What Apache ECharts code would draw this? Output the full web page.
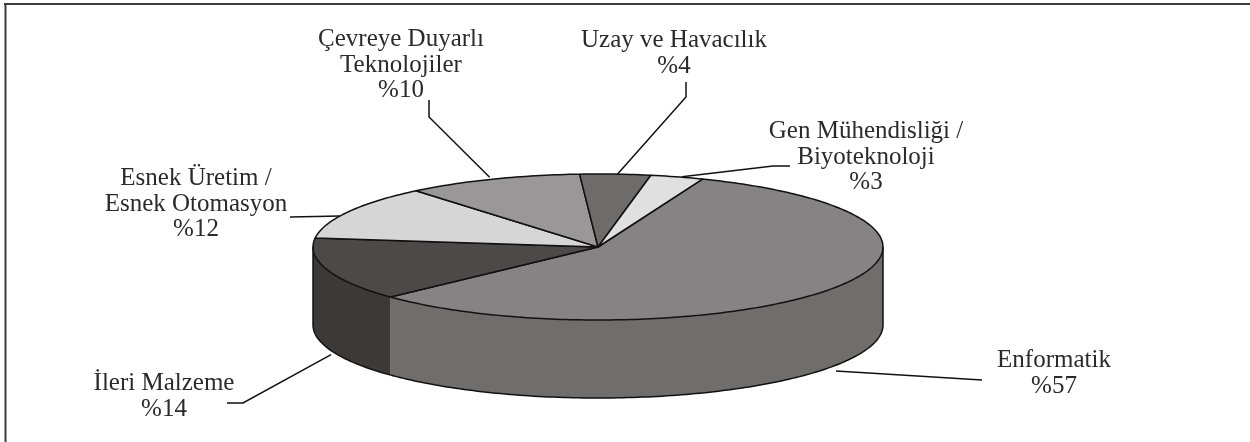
<!DOCTYPE html>
<html>
<head>
<meta charset="utf-8">
<title>Pie</title>
<style>
html, body { margin: 0; padding: 0; background: #fff; }
#chart { width: 1250px; height: 442px; }
</style>
<script src="https://cdn.jsdelivr.net/npm/echarts@6/dist/echarts.min.js"></script>
</head>
<body>
<div id="chart"></div>
<script>
const categories = ['Enformatik', 'İleri Malzeme', 'Esnek Üretim /\nEsnek Otomasyon', 'Çevreye Duyarlı\nTeknolojiler', 'Uzay ve Havacılık', 'Gen Mühendisliği /\nBiyoteknoloji']
const values = [57, 14, 12, 10, 4, 3]

const topColors = ['#858384', '#4d4948', '#d6d6d6', '#999798', '#6e6c6a', '#e0e0e0']
const sideColors = ['#6f6e6c', '#3d3937', '#a8a8a8', '#777576', '#555351', '#b0b0b0']

// where each label sits and how its leader runs, pixels on the page
const labelSpots = [[1054, 348], [164, 371], [196, 166], [401, 27], [674, 28], [866, 119]]
const leaderNudges = [[2, 5], [4, 7], [-8, 4], [-3, -2], [2, 0], [5, 0]]
const leaderBends = [
  [[982, 380]],
  [[243, 403], [227, 403]],
  [[290, 217]],
  [[429, 117], [429, 100]],
  [[686, 97], [686, 82]],
  [[773, 166], [790, 166]],
]

const cx = 598
const cy = 247
const rx = 285
const ry = 73
const depth = 78
const startDeg = 68.5
const total = values.reduce((a, b) => a + b, 0)
const edge = { stroke: '#111', lineWidth: 1.5, fill: null }

function rimPoint(deg, drop) {
  const t = deg * Math.PI / 180
  return [cx + rx * Math.cos(t), cy - ry * Math.sin(t) + drop]
}

// from > to, walking clockwise
function arcPoints(from, to, drop) {
  const pts = []
  for (let d = from; d > to; d -= 1) pts.push(rimPoint(d, drop))
  pts.push(rimPoint(to, drop))
  return pts
}

function sliceRange(i) {
  let before = 0
  for (let k = 0; k < i; k++) before += values[k]
  const from = startDeg - before / total * 360
  return [from, from - values[i] / total * 360]
}

function wallChildren(i, from, to) {
  // the wall only shows on the front half, 0 to -180
  const hi = Math.min(from, 0)
  const lo = Math.max(to, -180)
  if (hi <= lo) return []
  const upper = arcPoints(hi, lo, 0)
  const lower = arcPoints(hi, lo, depth)
  const parts = [
    { type: 'polygon', z2: 1, shape: { points: upper.concat(lower.slice().reverse()) }, style: { fill: sideColors[i] } },
    { type: 'polyline', z2: 3, shape: { points: lower }, style: edge },
  ]
  if (from > 0) parts.push({ type: 'polyline', z2: 3, shape: { points: [rimPoint(0, 0), rimPoint(0, depth)] }, style: edge })
  if (to < -180) parts.push({ type: 'polyline', z2: 3, shape: { points: [rimPoint(-180, 0), rimPoint(-180, depth)] }, style: edge })
  return parts
}

function renderSlice(params, api) {
  const i = params.dataIndex
  const [from, to] = sliceRange(i)
  const mid = (from + to) / 2
  const onFront = Math.sin(mid * Math.PI / 180) < 0
  const rim = rimPoint(mid, onFront ? depth : 0)
  const anchor = [rim[0] + leaderNudges[i][0], rim[1] + leaderNudges[i][1]]

  const children = wallChildren(i, from, to)
  children.push({
    type: 'polygon',
    z2: 2,
    shape: { points: [[cx, cy]].concat(arcPoints(from, to, 0)) },
    style: { fill: topColors[i], stroke: '#111', lineWidth: 1.5, lineJoin: 'round' },
  })
  children.push({
    type: 'polyline',
    z2: 4,
    shape: { points: [anchor].concat(leaderBends[i]) },
    style: edge,
  })
  children.push({
    type: 'text',
    z2: 5,
    x: labelSpots[i][0],
    y: labelSpots[i][1],
    style: {
      text: categories[i] + '\n%' + api.value(0),
      fill: '#2a2a2a',
      font: '25px "Liberation Serif", serif',
      lineHeight: 25.5,
      align: 'center',
      verticalAlign: 'top',
    },
  })
  return { type: 'group', children }
}

const chart = echarts.init(document.getElementById('chart'))
chart.setOption({
  animation: false,
  backgroundColor: '#fff',
  graphic: [
    { type: 'line', shape: { x1: 4, y1: 4, x2: 1250, y2: 4 }, style: { stroke: '#3c3c3c', lineWidth: 2 } },
    { type: 'line', shape: { x1: 5.5, y1: 3, x2: 5.5, y2: 442 }, style: { stroke: '#3c3c3c', lineWidth: 2 } },
  ],
  series: [
    {
      type: 'custom',
      coordinateSystem: 'none',
      renderItem: renderSlice,
      silent: true,
      data: values.map((v) => [v]),
    },
  ],
})
</script>
</body>
</html>
